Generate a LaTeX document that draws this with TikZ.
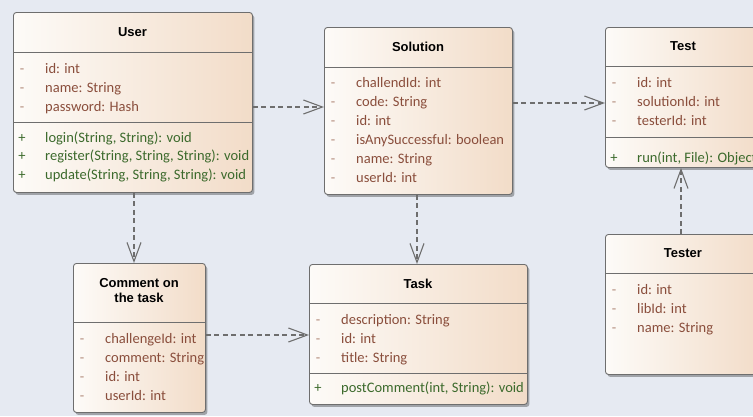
\documentclass[tikz,border=0pt]{standalone}
\usepackage{fontspec}
\setmainfont{Carlito}
\newfontfamily\titlefont{Liberation Sans}
\usetikzlibrary{arrows.meta,shadows}
\definecolor{bgc}{HTML}{E6EAF2}
\definecolor{creamL}{HTML}{FDFBF8}
\definecolor{creamR}{HTML}{F2DCC8}
\definecolor{linec}{HTML}{6E6E6E}
\definecolor{attrc}{HTML}{8A4E3C}
\definecolor{signc}{HTML}{B08878}
\definecolor{opc}{HTML}{3C6A2C}
\tikzset{
  cls/.style={draw=linec, line width=0.9pt, rounded corners=3pt, left color=creamL, right color=creamR,
    anchor=north west, inner sep=0pt,
    drop shadow={shadow xshift=2pt, shadow yshift=-2.5pt, fill=black, opacity=0.3}},
  sepline/.style={draw=linec, line width=0.9pt},
  ttl/.style={font=\titlefont\bfseries\fontsize{13}{15}\selectfont, align=center, inner sep=0pt},
  attr/.style={font=\fontsize{14.5}{16}\selectfont, text=attrc, anchor=base west, inner sep=0pt},
  oper/.style={font=\fontsize{14.5}{16}\selectfont, text=opc, anchor=base west, inner sep=0pt},
  msign/.style={font=\fontsize{14.5}{16}\selectfont, text=signc, anchor=base, inner sep=0pt},
  psign/.style={font=\fontsize{14.5}{16}\selectfont, text=opc, anchor=base, inner sep=0pt},
  dep/.style={draw=linec, line width=1.1pt, dash pattern=on 5pt off 3.5pt,
    -{Straight Barb[length=19pt,width=14pt,line width=1.1pt]}},
}
\begin{document}
\begin{tikzpicture}[x=1pt,y=-1pt]
\useasboundingbox (0,0) rectangle (753,416);
\clip (0,0) rectangle (753,416);
\fill[bgc] (0,0) rectangle (753,416);

% ---------- User ----------
\node[cls, minimum width=239pt, minimum height=180pt] (user) at (13,12) {};
\draw[sepline] (user.west |- 0,52) -- (user.east |- 0,52);
\draw[sepline] (user.west |- 0,122) -- (user.east |- 0,122);
\node[ttl] (usert) at (132.5,32) {User};
\node[msign] (us1) at (22,73) {-};   \node[attr] (ua1) at (45,73) {id: int};
\node[msign] (us2) at (22,92) {-};   \node[attr] (ua2) at (45,92) {name: String};
\node[msign] (us3) at (22,111) {-};  \node[attr] (ua3) at (45,111) {password: Hash};
\node[psign] (up1) at (22,142) {+};  \node[oper] (uo1) at (45,142) {login(String, String): void};
\node[psign] (up2) at (22,160.5) {+};    \node[oper] (uo2) at (45,160.5) {register(String, String, String): void};
\node[psign] (up3) at (22,179) {+};  \node[oper] (uo3) at (45,179) {update(String, String, String): void};

% ---------- Solution ----------
\node[cls, minimum width=188pt, minimum height=167pt] (sol) at (324,27) {};
\draw[sepline] (sol.west |- 0,67) -- (sol.east |- 0,67);
\node[ttl] (solt) at (418,47) {Solution};
\node[msign] (ss1) at (333,87) {-};  \node[attr] (sa1) at (356,87) {challendId: int};
\node[msign] (ss2) at (333,106) {-}; \node[attr] (sa2) at (356,106) {code: String};
\node[msign] (ss3) at (333,125) {-}; \node[attr] (sa3) at (356,125) {id: int};
\node[msign] (ss4) at (333,144) {-}; \node[attr] (sa4) at (356,144) {isAnySuccessful: boolean};
\node[msign] (ss5) at (333,163) {-}; \node[attr] (sa5) at (356,163) {name: String};
\node[msign] (ss6) at (333,182) {-}; \node[attr] (sa6) at (356,182) {userId: int};

% ---------- Test ----------
\node[cls, minimum width=156pt, minimum height=140pt] (test) at (605,27) {};
\draw[sepline] (test.west |- 0,66) -- (test.east |- 0,66);
\draw[sepline] (test.west |- 0,137) -- (test.east |- 0,137);
\node[ttl] (testt) at (683,46.5) {Test};
\node[msign] (ts1) at (614,87) {-};  \node[attr] (ta1) at (637,87) {id: int};
\node[msign] (ts2) at (614,106) {-}; \node[attr] (ta2) at (637,106) {solutionId: int};
\node[msign] (ts3) at (614,125) {-}; \node[attr] (ta3) at (637,125) {testerId: int};
\node[psign] (tp1) at (614,162) {+}; \node[oper] (to1) at (637,162) {run(int, File): Object};

% ---------- Tester ----------
\node[cls, minimum width=156pt, minimum height=140pt] (tester) at (605,234) {};
\draw[sepline] (tester.west |- 0,273) -- (tester.east |- 0,273);
\node[ttl] (testert) at (683,253.5) {Tester};
\node[msign] (rs1) at (614,294) {-};  \node[attr] (ra1) at (637,294) {id: int};
\node[msign] (rs2) at (614,313) {-};  \node[attr] (ra2) at (637,313) {libId: int};
\node[msign] (rs3) at (614,332) {-};  \node[attr] (ra3) at (637,332) {name: String};

% ---------- Comment on the task ----------
\node[cls, minimum width=132pt, minimum height=149pt] (com) at (73,263) {};
\draw[sepline] (com.west |- 0,322) -- (com.east |- 0,322);
\node[ttl] (comt) at (139,291) {Comment on\\the task};
\node[msign] (cs1) at (82,343) {-};  \node[attr] (ca1) at (105,343) {challengeId: int};
\node[msign] (cs2) at (82,362) {-};  \node[attr] (ca2) at (105,362) {comment: String};
\node[msign] (cs3) at (82,381) {-};  \node[attr] (ca3) at (105,381) {id: int};
\node[msign] (cs4) at (82,400) {-};  \node[attr] (ca4) at (105,400) {userId: int};

% ---------- Task ----------
\node[cls, minimum width=218pt, minimum height=140pt] (task) at (309,264) {};
\draw[sepline] (task.west |- 0,303) -- (task.east |- 0,303);
\draw[sepline] (task.west |- 0,373) -- (task.east |- 0,373);
\node[ttl] (taskt) at (418,283.5) {Task};
\node[msign] (ks1) at (318,324) {-};  \node[attr] (ka1) at (341,324) {description: String};
\node[msign] (ks2) at (318,343) {-};  \node[attr] (ka2) at (341,343) {id: int};
\node[msign] (ks3) at (318,362) {-};  \node[attr] (ka3) at (341,362) {title: String};
\node[psign] (kp1) at (318,392) {+};  \node[oper] (ko1) at (341,392) {postComment(int, String): void};

% ---------- Dependencies ----------
\draw[dep] (user.east |- 0,107) -- (sol.west |- 0,107);
\draw[dep] (sol.east |- 0,103) -- (test.west |- 0,103);
\draw[dep] (user.south -| 134,0) -- (com.north -| 134,0);
\draw[dep] (sol.south -| 417,0) -- (task.north -| 417,0);
\draw[dep] (com.east |- 0,335) -- (task.west |- 0,335);
\draw[dep] (tester.north -| 681,0) -- (test.south -| 681,0);
\end{tikzpicture}
\end{document}
